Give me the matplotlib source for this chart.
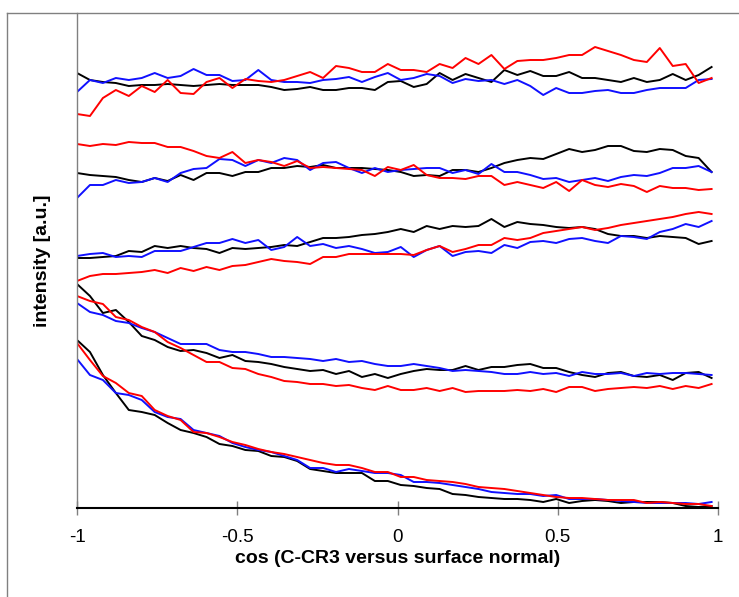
import numpy as np
import matplotlib.pyplot as plt
from matplotlib.lines import Line2D

# x grid (cos of angle), 50 samples from -1 to 0.98
x = np.linspace(-1, 0.98, 50)

# intensities [a.u.], five groups of three curves
top_black = [435, 428, 426, 425, 422, 423, 423, 424, 423, 422, 423, 424, 423, 423, 423, 421, 418, 419, 421, 418,
             418, 420, 420, 418, 426, 427, 421, 424, 435, 428, 434, 430, 426, 438, 433, 437, 432, 432, 436, 430,
             430, 428, 426, 430, 426, 428, 434, 428, 433, 441]
top_blue = [416, 428, 425, 430, 428, 430, 435, 430, 432, 439, 433, 433, 427, 428, 438, 428, 426, 426, 425, 428,
            429, 431, 426, 431, 435, 428, 430, 434, 432, 425, 429, 427, 428, 424, 428, 422, 413, 420, 415, 415,
            417, 418, 415, 415, 418, 420, 420, 420, 428, 429]
top_red = [394, 392, 410, 418, 412, 422, 416, 428, 415, 414, 426, 430, 420, 429, 427, 426, 428, 432, 436, 430,
           442, 440, 436, 436, 444, 438, 438, 436, 444, 440, 450, 444, 453, 439, 447, 448, 448, 450, 453, 453,
           461, 457, 453, 448, 446, 460, 442, 444, 425, 430]

g2_black = [335, 333, 332, 331, 328, 326, 330, 327, 333, 328, 335, 335, 332, 336, 336, 340, 340, 342, 341, 343,
            340, 340, 340, 339, 338, 336, 332, 333, 332, 338, 338, 336, 340, 345, 348, 350, 349, 354, 359, 356,
            358, 362, 362, 357, 356, 359, 358, 352, 350, 336]
g2_blue = [310, 323, 323, 328, 325, 326, 330, 326, 335, 339, 340, 349, 348, 342, 348, 345, 350, 348, 338, 345,
           346, 340, 335, 340, 336, 338, 339, 340, 340, 335, 338, 334, 344, 336, 336, 333, 329, 330, 326, 328,
           330, 327, 331, 333, 332, 335, 340, 340, 342, 336]
g2_red = [364, 362, 364, 363, 366, 365, 365, 361, 361, 357, 352, 350, 356, 345, 348, 346, 342, 347, 340, 341,
          340, 339, 338, 332, 341, 338, 343, 333, 330, 330, 329, 332, 332, 323, 326, 323, 320, 326, 317, 328,
          323, 321, 324, 322, 316, 322, 320, 320, 318, 319]

g3_black = [250, 250, 251, 252, 257, 256, 262, 260, 262, 260, 259, 255, 260, 259, 260, 261, 263, 262, 266, 270,
            270, 271, 273, 274, 276, 279, 276, 282, 279, 282, 281, 282, 289, 281, 286, 284, 283, 281, 280, 281,
            279, 274, 272, 272, 270, 272, 271, 270, 264, 267]
g3_blue = [252, 254, 255, 251, 252, 251, 257, 257, 257, 261, 265, 265, 269, 265, 268, 258, 261, 271, 262, 264,
           260, 262, 259, 255, 256, 261, 251, 258, 262, 252, 256, 257, 255, 263, 260, 266, 267, 265, 269, 270,
           267, 265, 272, 271, 269, 276, 279, 284, 281, 287]
g3_red = [227, 232, 234, 234, 235, 236, 238, 235, 240, 237, 241, 238, 242, 243, 246, 249, 247, 246, 244, 251,
          251, 254, 254, 254, 254, 254, 253, 258, 262, 256, 259, 263, 263, 270, 268, 270, 275, 277, 279, 281,
          278, 280, 283, 285, 287, 289, 291, 294, 296, 294]

g4_black = [224, 212, 195, 198, 186, 172, 168, 161, 157, 158, 155, 150, 153, 147, 146, 144, 141, 139, 137, 138,
            134, 137, 131, 134, 130, 134, 137, 139, 138, 138, 142, 138, 141, 141, 143, 144, 140, 140, 136, 133,
            131, 135, 136, 132, 131, 133, 128, 135, 136, 130]
g4_blue = [205, 196, 193, 187, 185, 180, 176, 170, 164, 164, 164, 158, 156, 156, 154, 151, 151, 150, 149, 147,
           149, 146, 147, 144, 142, 142, 144, 142, 140, 137, 138, 137, 136, 134, 134, 136, 134, 135, 132, 136,
           134, 134, 135, 132, 135, 134, 135, 135, 134, 133]
g4_red = [212, 207, 204, 191, 188, 181, 176, 166, 160, 153, 146, 146, 140, 139, 134, 131, 127, 126, 124, 124,
          122, 123, 120, 118, 122, 118, 118, 120, 117, 120, 116, 117, 117, 117, 118, 117, 119, 116, 121, 121,
          117, 119, 120, 121, 120, 122, 119, 122, 120, 124]

g5_black = [168, 156, 133, 115, 98, 96, 93, 85, 78, 75, 71, 64, 62, 58, 57, 52, 51, 47, 39, 37,
            35, 35, 35, 27, 27, 23, 22, 20, 19, 14, 13, 11, 10, 9, 9, 8, 6, 9, 5, 7,
            8, 7, 5, 6, 6, 6, 5, 2, 1, 2]
g5_blue = [149, 133, 128, 115, 113, 108, 96, 91, 89, 78, 75, 72, 65, 61, 58, 56, 52, 48, 40, 40,
           36, 39, 37, 35, 35, 33, 26, 26, 25, 23, 21, 19, 16, 15, 14, 14, 12, 13, 9, 9,
           9, 8, 7, 6, 5, 5, 5, 5, 4, 6]
g5_red = [165, 148, 132, 125, 115, 112, 98, 92, 88, 76, 75, 71, 66, 63, 59, 56, 54, 51, 48, 45,
          43, 43, 40, 36, 36, 31, 31, 28, 27, 26, 24, 21, 20, 19, 17, 15, 13, 11, 10, 10,
          9, 8, 8, 8, 5, 6, 5, 4, 4, 2]

xticks = [-1, -0.5, 0, 0.5, 1]
xticklabels = ['-1', '-0.5', '0', '0.5', '1']

plt.rcParams['font.family'] = ['Liberation Sans', 'DejaVu Sans']

fig = plt.figure(figsize=(7.39, 5.97), dpi=100)
ax = fig.add_axes([77 / 739, 1 - 508 / 597, 641 / 739, 495 / 597])

groups = [(top_black, top_blue, top_red), (g2_black, g2_blue, g2_red), (g3_black, g3_blue, g3_red),
          (g4_black, g4_blue, g4_red), (g5_black, g5_blue, g5_red)]
for k, b, r in groups:
    ax.plot(x, k, color='black', lw=1.4)
    ax.plot(x, b, color='#1010ff', lw=1.4)
    ax.plot(x, r, color='#ff0000', lw=1.4)

ax.set_xlim(-1, 1)
ax.set_ylim(0, 495)
ax.set_yticks([])
ax.set_xticks(xticks)
ax.set_xticklabels(xticklabels)
ax.tick_params(axis='x', direction='inout', length=10, width=1, color='#808080', labelsize=13.5, pad=10)

ax.spines['top'].set_visible(False)
ax.spines['right'].set_visible(False)
ax.spines['left'].set_color('#808080')
ax.spines['left'].set_linewidth(1)
ax.spines['bottom'].set_color('black')
ax.spines['bottom'].set_linewidth(1.5)

ax.set_xlabel('cos (C-CR3 versus surface normal)', fontsize=14, fontweight='bold', labelpad=3)
ax.set_ylabel('intensity [a.u.]', fontsize=14, fontweight='bold', labelpad=19)

# outer frame (left and top edges visible)
fig.add_artist(Line2D([7 / 739, 7 / 739], [0, 1 - 13 / 597], color='#808080', lw=1, transform=fig.transFigure))
fig.add_artist(Line2D([7 / 739, 1], [1 - 13 / 597, 1 - 13 / 597], color='#808080', lw=1, transform=fig.transFigure))

fig.savefig('out.png', dpi=100)
